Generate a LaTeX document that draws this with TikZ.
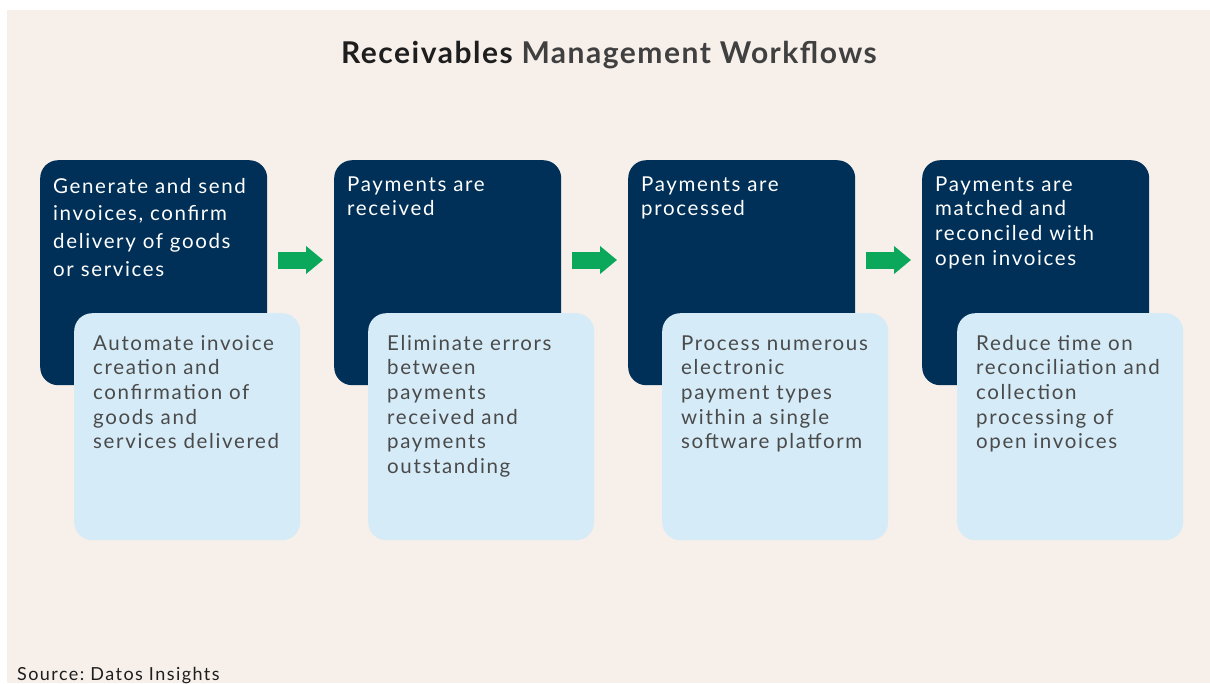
\documentclass[tikz,border=0pt]{standalone}
\usepackage{fontspec}
\setmainfont{Lato}[LetterSpace=8]
\newfontfamily\titlefont{Lato}[LetterSpace=5]
\usetikzlibrary{arrows.meta,calc}
\definecolor{bg}{HTML}{F7F0EA}
\definecolor{navy}{HTML}{003057}
\definecolor{pale}{HTML}{D5EBF7}
\definecolor{grn}{HTML}{0BA85C}
\definecolor{txtgray}{HTML}{4A4A4A}
\definecolor{titleblk}{HTML}{1E1E1E}
\definecolor{titlegray}{HTML}{404040}
\newcommand\firstline{\rule{0pt}{17pt}}
\frenchspacing
\begin{document}
\begin{tikzpicture}[x=1pt,y=-1pt,
  darkbox/.style={fill=navy, rounded corners=18pt, minimum width=227pt, minimum height=225pt, inner sep=0pt, anchor=north west},
  palebox/.style={fill=pale, rounded corners=18pt, minimum width=226pt, minimum height=227pt, inner sep=0pt, anchor=north west},
  darktext/.style={text=white, anchor=north west, inner sep=0pt, align=left, font=\fontsize{20.5}{24.6}\selectfont},
  paletext/.style={text=txtgray, anchor=north west, inner sep=0pt, align=left, font=\fontsize{20.5}{24.6}\selectfont},
  flowarrow/.style={draw=grn, line width=17pt, -{Triangle[width=27pt,length=17pt]}}
]
\fill[white] (0,0) rectangle (1210,683);
\useasboundingbox (0,0) rectangle (1210,683);
\fill[bg] (7,10) rectangle (1210,683);

\node[anchor=base, text=titlegray, font=\titlefont\bfseries\fontsize{30}{34}\selectfont] (title) at (609,63)
  {{\color{titleblk}Receivables} Management Workflows};

% dark boxes
\node[darkbox] (d1) at (40,160) {};
\node[darkbox] (d2) at (334,160) {};
\node[darkbox] (d3) at (628,160) {};
\node[darkbox] (d4) at (922,160) {};

% pale boxes
\node[palebox] (l1) at (74,313) {};
\node[palebox] (l2) at (368,313) {};
\node[palebox] (l3) at (662,313) {};
\node[palebox] (l4) at (957,313) {};

% dark texts (first baseline 17pt below the node top)
\node[darktext, font=\fontsize{20.5}{27.7}\selectfont] (t1) at ($(d1.north west)+(13,16)$)
  {\firstline Generate and send\\invoices, confirm\\delivery of goods\\or services};
\node[darktext] (t2) at ($(d2.north west)+(13,14)$) {\firstline Payments are\\received};
\node[darktext] (t3) at ($(d3.north west)+(13,14)$) {\firstline Payments are\\processed};
\node[darktext] (t4) at ($(d4.north west)+(13,14)$) {\firstline Payments are\\matched and\\reconciled with\\open invoices};

% pale texts
\node[paletext] (p1) at ($(l1.north west)+(19,20)$)
  {\firstline Automate invoice\\creation and\\confirmation of\\goods and\\services delivered};
\node[paletext] (p2) at ($(l2.north west)+(19,20)$)
  {\firstline Eliminate errors\\between\\payments\\received and\\payments\\outstanding};
\node[paletext] (p3) at ($(l3.north west)+(19,20)$)
  {\firstline Process numerous\\electronic\\payment types\\within a single\\software platform};
\node[paletext] (p4) at ($(l4.north west)+(19,20)$)
  {\firstline Reduce time on\\reconciliation and\\collection\\processing of\\open invoices};

% arrows
\draw[flowarrow] ($(d1.north east)+(11,100)$) -- ($(d2.north west)+(-11,100)$);
\draw[flowarrow] ($(d2.north east)+(11,100)$) -- ($(d3.north west)+(-11,100)$);
\draw[flowarrow] ($(d3.north east)+(11,100)$) -- ($(d4.north west)+(-11,100)$);

\node[anchor=base west, inner sep=0pt, text=titleblk, font=\fontsize{18}{20}\selectfont] (src) at (17,680) {Source: Datos Insights};
\end{tikzpicture}
\end{document}
